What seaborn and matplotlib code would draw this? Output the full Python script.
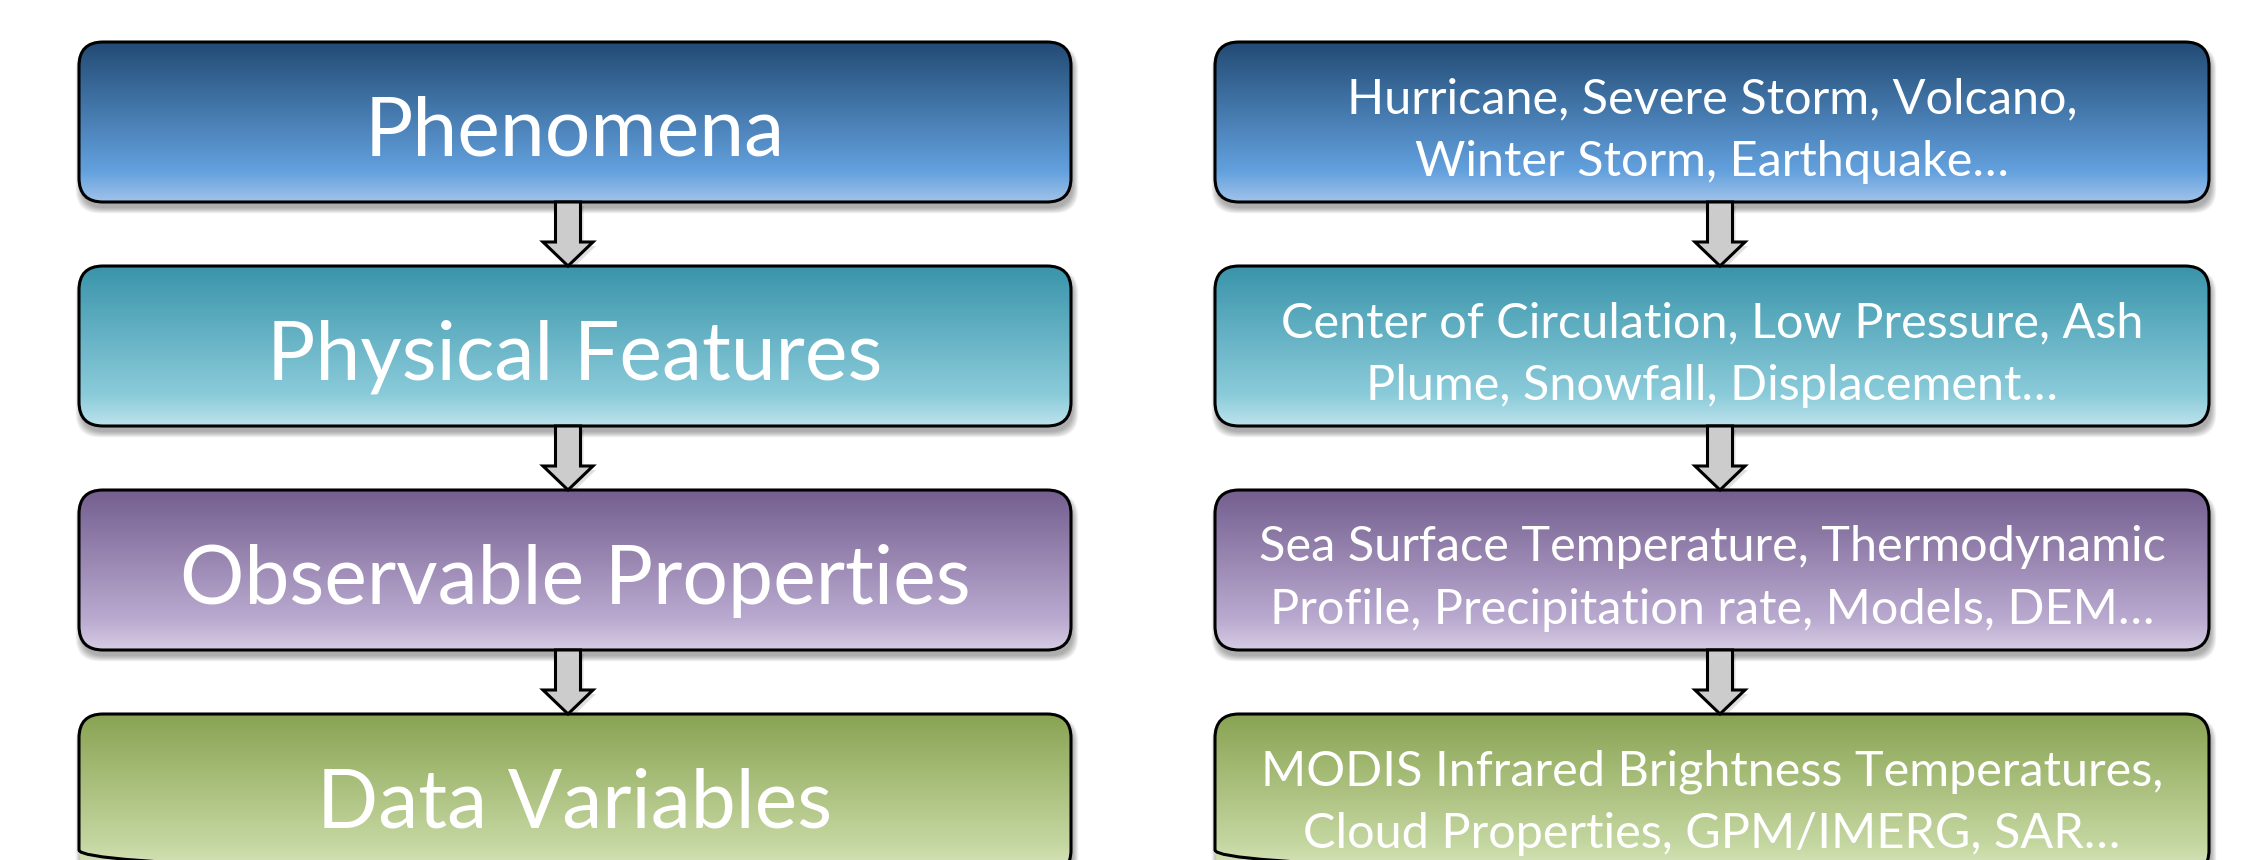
import numpy as np
import matplotlib
matplotlib.use("Agg")
import matplotlib.pyplot as plt
from matplotlib.patches import FancyBboxPatch, Polygon
import seaborn as sns

# ---- content ----
left_labels = ["Phenomena", "Physical Features", "Observable Properties", "Data Variables"]
right_lines = [
    ["Hurricane, Severe Storm, Volcano,", "Winter Storm, Earthquake…"],
    ["Center of Circulation, Low Pressure, Ash", "Plume, Snowfall, Displacement…"],
    ["Sea Surface Temperature, Thermodynamic", "Profile, Precipitation rate, Models, DEM…"],
    ["MODIS Infrared Brightness Temperatures,", "Cloud Properties, GPM/IMERG, SAR…"],
]
# gradient stops (top, ~80%, bottom) per level
grad_top = ["#224B74", "#3A94AA", "#745F8F", "#89A353"]
grad_mid = ["#62A0DD", "#8ACBDA", "#B9A9CF", "#C4D69F"]
grad_bot = ["#A0C3EA", "#BDE3EC", "#D6CCE3", "#DAE7C0"]

sns.set_theme(style="white")
plt.rcParams['font.family'] = ['Lato', 'DejaVu Sans']

W, H = 2249, 860
fig = plt.figure(figsize=(W / 100, H / 100), dpi=100)
ax = fig.add_axes([0, 0, 1, 1])
ax.set_axis_off()

box_h = 160
step = 224
top0 = 42
cols = [(79, 1071), (1215, 2209)]
arrow_cx = [568, 1720]


def draw_box(x0, x1, y0, i):
    y1 = y0 + box_h
    # soft shadow
    for k in range(10):
        sh = FancyBboxPatch((x0 + 2 - k * 0.6, y0 + 6 - k * 0.3), x1 - x0 + k * 1.2, box_h + k * 0.9,
                            boxstyle="round,pad=0,rounding_size=24",
                            fc="black", ec="none", alpha=0.035, zorder=1)
        ax.add_patch(sh)
    patch = FancyBboxPatch((x0, y0), x1 - x0, box_h,
                           boxstyle="round,pad=0,rounding_size=24",
                           fc="none", ec="black", lw=2.2, zorder=4)
    ax.add_patch(patch)
    n1 = 205
    n2 = 51
    c1 = sns.blend_palette([grad_top[i], grad_mid[i]], n1)
    c2 = sns.blend_palette([grad_mid[i], grad_bot[i]], n2)
    arr = np.array(list(c1) + list(c2))[:, None, :]
    im = ax.imshow(arr, extent=(x0, x1, y1, y0), origin="upper", aspect="auto",
                   interpolation="bilinear", zorder=3)
    clip = FancyBboxPatch((x0, y0), x1 - x0, box_h,
                          boxstyle="round,pad=0,rounding_size=24",
                          fc="none", ec="none", transform=ax.transData)
    ax.add_patch(clip)
    im.set_clip_path(clip)


def draw_arrow(cx, y0, y1):
    sw, hw, hl = 12.5, 25, 24
    pts = [(cx - sw, y0), (cx + sw, y0), (cx + sw, y1 - hl), (cx + hw, y1 - hl),
           (cx, y1), (cx - hw, y1 - hl), (cx - sw, y1 - hl)]
    shadow = Polygon([(x + 3, y + 4) for x, y in pts], closed=True, fc="black",
                     ec="none", alpha=0.12, zorder=2)
    ax.add_patch(shadow)
    ax.add_patch(Polygon(pts, closed=True, fc="#CCCCCC", ec="black", lw=2.2,
                         joinstyle="miter", zorder=5))


for i in range(4):
    y0 = top0 + i * step
    for c, (x0, x1) in enumerate(cols):
        draw_box(x0, x1, y0, i)
    lx = (cols[0][0] + cols[0][1]) / 2
    ax.text(lx, y0 + 114, left_labels[i], ha="center", va="baseline",
            color="white", fontsize=58, zorder=6)
    rx = (cols[1][0] + cols[1][1]) / 2
    for j, line in enumerate(right_lines[i]):
        ax.text(rx, y0 + 71 + j * 63, line, ha="center", va="baseline",
                color="white", fontsize=35, zorder=6)
    if i < 3:
        for cx in arrow_cx:
            draw_arrow(cx, y0 + box_h, y0 + step)

ax.set_xlim(0, W)
ax.set_ylim(H, 0)
fig.savefig("out.png", dpi=100, facecolor="white")
